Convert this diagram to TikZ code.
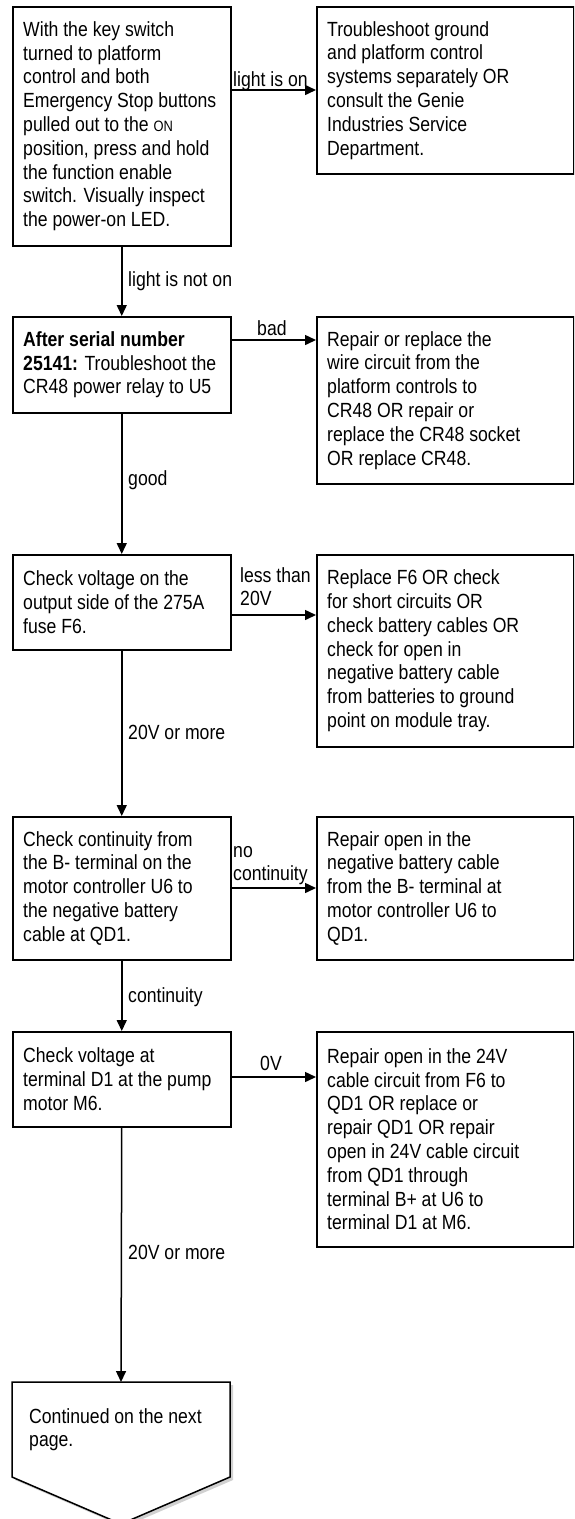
\documentclass[tikz,border=0pt]{standalone}
\usepackage{fontspec}
\setmainfont{Liberation Sans}[FakeStretch=0.86]
\usetikzlibrary{arrows.meta}
\tikzset{
  box/.style={draw, line width=1.5pt, anchor=north west, inner sep=0pt},
  txt/.style={font=\fontsize{20.5}{23.8}\selectfont, align=left, inner sep=0pt, anchor=west},
  lbl/.style={font=\fontsize{20.5}{23.8}\selectfont, align=left, inner sep=0pt, anchor=base west},
  lbltwo/.style={font=\fontsize{20.5}{23.8}\selectfont, align=left, inner sep=0pt, anchor=north west},
  arr/.style={line width=1.5pt, -{Triangle[length=11pt,width=10pt]}},
}
\newcommand{\smallon}{{\fontsize{15}{23.8}\selectfont ON}}
\begin{document}
\begin{tikzpicture}[x=1pt,y=-1pt]
\useasboundingbox (0,0) rectangle (574,1519);
\fill[white] (0,0) rectangle (574,1519);
\clip (0,0) rectangle (574,1519);

% left column boxes
\node[box, minimum width=218pt, minimum height=239pt] (b1) at (12,6) {};
\node[box, minimum width=218pt, minimum height=96pt] (b2) at (12,316) {};
\node[box, minimum width=218pt, minimum height=95pt] (b3) at (12,554) {};
\node[box, minimum width=218pt, minimum height=143pt] (b4) at (12,816) {};
\node[box, minimum width=218pt, minimum height=95pt] (b5) at (12,1031) {};

% right column boxes
\node[box, minimum width=257pt, minimum height=167pt] (r1) at (316,6) {};
\node[box, minimum width=257pt, minimum height=167pt] (r2) at (316,316) {};
\node[box, minimum width=257pt, minimum height=192pt] (r3) at (316,554) {};
\node[box, minimum width=257pt, minimum height=143pt] (r4) at (316,816) {};
\node[box, minimum width=257pt, minimum height=215pt] (r5) at (316,1031) {};

% texts
\node[txt] (b1t) at ([xshift=11pt]b1.west) {With the key switch\\turned to platform\\control and both\\Emergency Stop buttons\\pulled out to the \smallon\\position, press and hold\\the function enable\\switch. Visually inspect\\the power-on LED.};
\node[txt] (r1t) at ([xshift=11pt]r1.west) {Troubleshoot ground\\and platform control\\systems separately OR\\consult the Genie\\Industries Service\\Department.};
\node[txt] (b2t) at ([xshift=11pt]b2.west) {\textbf{After serial number}\\\textbf{25141:} Troubleshoot the\\CR48 power relay to U5};
\node[txt] (r2t) at ([xshift=11pt]r2.west) {Repair or replace the\\wire circuit from the\\platform controls to\\CR48 OR repair or\\replace the CR48 socket\\OR replace CR48.};
\node[txt] (b3t) at ([xshift=11pt]b3.west) {Check voltage on the\\output side of the 275A\\fuse F6.};
\node[txt] (r3t) at ([xshift=11pt]r3.west) {Replace F6 OR check\\for short circuits OR\\check battery cables OR\\check for open in\\negative battery cable\\from batteries to ground\\point on module tray.};
\node[txt] (b4t) at ([xshift=11pt]b4.west) {Check continuity from\\the B- terminal on the\\motor controller U6 to\\the negative battery\\cable at QD1.};
\node[txt] (r4t) at ([xshift=11pt]r4.west) {Repair open in the\\negative battery cable\\from the B- terminal at\\motor controller U6 to\\QD1.};
\node[txt] (b5t) at ([xshift=11pt]b5.west) {Check voltage at\\terminal D1 at the pump\\motor M6.};
\node[txt] (r5t) at ([xshift=11pt]r5.west) {Repair open in the 24V\\cable circuit from F6 to\\QD1 OR replace or\\repair QD1 OR repair\\open in 24V cable circuit\\from QD1 through\\terminal B+ at U6 to\\terminal D1 at M6.};

% continuation pentagon
\coordinate (c6) at (121,1382);
\fill[black!18] (15,1385) -- (233,1385) -- (233,1480) -- (124,1527) -- (15,1480) -- cycle;
\draw[line width=1.5pt, fill=white, line join=miter] (12,1382) -- (c6) -- (230,1382) -- (230,1477) -- (121,1524) -- (12,1477) -- cycle;
\node[lbltwo] (c6t) at (29,1406.3) {\strut Continued on the next\\page.};

% horizontal connectors
\draw[arr] ([yshift=-84pt]b1.north east) -- ([yshift=-84pt]r1.north west);
\draw[arr] ([yshift=-24pt]b2.north east) -- ([yshift=-24pt]r2.north west);
\draw[arr] ([yshift=-61pt]b3.north east) -- ([yshift=-61pt]r3.north west);
\draw[arr] ([yshift=-72pt]b4.north east) -- ([yshift=-72pt]r4.north west);
\draw[arr] ([yshift=-46pt]b5.north east) -- ([yshift=-46pt]r5.north west);

% vertical connectors
\draw[arr] (b1.south) -- (b2.north);
\draw[arr] (b2.south) -- (b3.north);
\draw[arr] (b3.south) -- (b4.north);
\draw[arr] (b4.south) -- (b5.north);
\draw[arr] (b5.south) -- (c6);

% labels
\node[lbl] (l1) at (233,86) {light is on};
\node[lbl] (l2) at (128,286) {light is not on};
\node[lbl] (l3) at (257,335) {bad};
\node[lbl] (l4) at (128,485) {good};
\node[lbltwo] (l5) at (240,565.3) {\strut less than\\20V};
\node[lbl] (l6) at (128,739) {20V or more};
\node[lbltwo] (l7) at (233,840.3) {\strut no\\continuity};
\node[lbl] (l8) at (128,1002) {continuity};
\node[lbl] (l9) at (260,1070) {0V};
\node[lbl] (l10) at (128,1259) {20V or more};
\end{tikzpicture}
\end{document}
